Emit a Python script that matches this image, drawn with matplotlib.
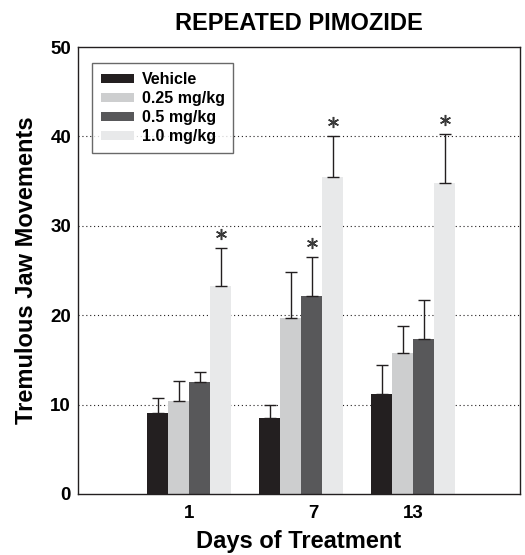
import numpy as np
import matplotlib.pyplot as plt

days = ["1", "7", "13"]
doses = ["Vehicle", "0.25 mg/kg", "0.5 mg/kg", "1.0 mg/kg"]
means = [
    [9.1, 8.5, 11.2],
    [10.4, 19.7, 15.8],
    [12.5, 22.1, 17.3],
    [23.3, 35.5, 34.8],
]
sems = [
    [1.6, 1.5, 3.2],
    [2.2, 5.1, 3.0],
    [1.2, 4.4, 4.4],
    [4.2, 4.6, 5.5],
]
# which bars carry the significance star
stars = [
    [False, False, False],
    [False, False, False],
    [False, True, False],
    [True, True, True],
]
colors = ["#231f20", "#cdcecf", "#58585a", "#e8e9ea"]

plt.rcParams['font.family'] = ['Liberation Sans', 'DejaVu Sans']
plt.rcParams['font.weight'] = 'bold'

fig = plt.figure(figsize=(5.25, 5.55), dpi=100)
ax = fig.add_axes([78 / 525, 61 / 555, 442 / 525, 447 / 555])

x = np.arange(len(days))
w = 0.1875
for i in range(len(doses)):
    xi = x + (i - 1.5) * w
    ax.bar(xi, means[i], w, color=colors[i], label=doses[i], zorder=2)
    ax.errorbar(xi, means[i], yerr=[np.zeros(3), sems[i]], fmt='none',
                ecolor='#231f20', elinewidth=1, capsize=4, capthick=1, zorder=3)
    for j in range(len(days)):
        if stars[i][j]:
            ax.plot(xi[j], means[i][j] + sems[i][j] + 1.55, marker=(6, 2, 0),
                    markersize=8, markeredgewidth=1.1, color='#3a3a3a', zorder=4)

ax.set_xlim(-0.991, 2.955)
ax.set_ylim(0, 50)
ax.set_yticks([0, 10, 20, 30, 40, 50])
ax.set_xticks(x + np.array([0, 0.11, 0]))
ax.set_xticklabels(days)
ax.tick_params(length=0, labelsize=13.5)
ax.tick_params(axis='x', pad=8)
ax.tick_params(axis='y', pad=5)
for yv in [10, 20, 30, 40]:
    ax.axhline(yv, color='#231f20', linestyle=(0, (1, 2.5)), linewidth=0.8, zorder=1)
for s in ax.spines.values():
    s.set_color('#231f20')
    s.set_linewidth(1)

ax.set_ylabel("Tremulous Jaw Movements", fontsize=17, fontweight='bold', labelpad=9)
ax.set_xlabel("Days of Treatment", fontsize=17, fontweight='bold', labelpad=6)
ax.set_title("REPEATED PIMOZIDE", fontsize=17, fontweight='bold', pad=12)

leg = ax.legend(loc='upper left', bbox_to_anchor=(0.032, 0.964), fontsize=11.5,
                frameon=True, fancybox=False, edgecolor='#444444',
                handlelength=2.1, handleheight=0.5, labelspacing=0.25,
                borderpad=0.55, handletextpad=0.45, borderaxespad=0)
leg.get_frame().set_linewidth(1)
leg.set_zorder(5)

fig.savefig("out.png", dpi=100)
